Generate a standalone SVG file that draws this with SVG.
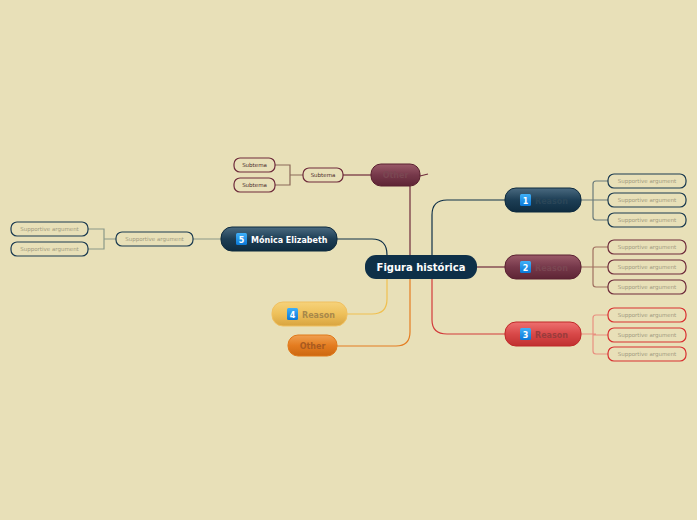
<svg xmlns="http://www.w3.org/2000/svg" width="697" height="520" viewBox="0 0 697 520">
<defs>
<linearGradient id="gNavy" x1="0" y1="0" x2="0" y2="1"><stop offset="0" stop-color="#4a6a80"/><stop offset="0.5" stop-color="#1d3e55"/><stop offset="1" stop-color="#0f2c40"/></linearGradient>
<linearGradient id="gMar" x1="0" y1="0" x2="0" y2="1"><stop offset="0" stop-color="#9a5a68"/><stop offset="0.5" stop-color="#76384a"/><stop offset="1" stop-color="#5e2535"/></linearGradient>
<linearGradient id="gRed" x1="0" y1="0" x2="0" y2="1"><stop offset="0" stop-color="#ee7070"/><stop offset="0.5" stop-color="#d84848"/><stop offset="1" stop-color="#c03030"/></linearGradient>
<linearGradient id="gYel" x1="0" y1="0" x2="0" y2="1"><stop offset="0" stop-color="#f6d27a"/><stop offset="0.5" stop-color="#eec05a"/><stop offset="1" stop-color="#d8a440"/></linearGradient>
<linearGradient id="gOr" x1="0" y1="0" x2="0" y2="1"><stop offset="0" stop-color="#f0a050"/><stop offset="0.5" stop-color="#e47c20"/><stop offset="1" stop-color="#cc6810"/></linearGradient>
<linearGradient id="gBadge" x1="0" y1="0" x2="0" y2="1"><stop offset="0" stop-color="#40b0f8"/><stop offset="1" stop-color="#0a78d8"/></linearGradient>
</defs>
<style>
.t{font-family:"DejaVu Sans","Liberation Sans",sans-serif;}
.main{font-size:10px;font-weight:bold;fill:#ffffff;}
.lbl{font-size:8px;font-weight:bold;}
.sup{font-size:5.5px;fill:#a09a80;}
.sub{font-size:5.5px;fill:#4a2a2a;}
.bn{font-size:8px;font-weight:bold;fill:#ffffff;}
.c{fill:none;stroke-width:1.2;}
.box{fill:#e8e0b8;stroke-width:1.2;}
</style>
<rect width="697" height="520" fill="#e8e0b8"/>
<g id="connectors">
<path class="c" stroke="#0f3048" stroke-width="1.5" d="M432,255 V215 Q432,200 447,200 H505"/>
<path class="c" stroke="#6e2b3b" stroke-width="1.5" d="M477,267 H505"/>
<path class="c" stroke="#d23b3b" stroke-width="1.5" d="M432,279 V320 Q432,334 447,334 H505"/>
<path class="c" stroke="#6e2b3b" stroke-width="2" d="M410,255 V186"/>
<path class="c" stroke="#0f3048" stroke-width="1.5" d="M337,239 H372 Q387,239 387,255"/>
<path class="c" stroke="#f0c050" stroke-width="1.5" d="M347,314 H372 Q387,314 387,299 V279"/>
<path class="c" stroke="#e47c20" stroke-width="1.5" d="M337,346 H396 Q410,346 410,332 V279"/>
<path class="c" stroke="#6e2b3b" d="M420,176 L428,174"/>
<path class="c" stroke="#6e2b3b" d="M343,175 H371"/>
<path class="c" stroke="#8a6858" d="M303,175 H290 M275,165 H290 V185 H275"/>
<path class="c" stroke="#6a7a7a" d="M581,200 H596 M608,181 H596 Q593,181 593,184 V217 Q593,220 596,220 H608 M593,200 H608"/>
<path class="c" stroke="#a07060" d="M581,267 H596 M608,247 H596 Q593,247 593,250 V284 Q593,287 596,287 H608 M593,267 H608"/>
<path class="c" stroke="#e89080" d="M581,334 H596 M608,315 H596 Q593,315 593,318 V351 Q593,354 596,354 H608 M593,335 H608"/>
<path class="c" stroke="#8a9888" d="M221,239 H193 M116,239 H104 M88,229 H104 V249 H88"/>
</g>
<g id="central">
<rect x="365" y="255" width="112" height="24" rx="11" fill="#0e3048"/>
<text class="t main" x="421" y="271" text-anchor="middle">Figura histórica</text>
</g>
<g id="reason1">
<rect x="505" y="188" width="76" height="24" rx="11" fill="url(#gNavy)" stroke="#0d2a3e"/>
<rect x="520" y="194" width="11" height="12" rx="1.5" fill="url(#gBadge)"/>
<text class="t bn" x="525.5" y="203.5" text-anchor="middle">1</text>
<text class="t lbl" x="535" y="203.5" fill="#2a4658">Reason</text>
</g>
<g id="reason2">
<rect x="505" y="255" width="76" height="24" rx="11" fill="url(#gMar)" stroke="#5a2030"/>
<rect x="520" y="261" width="11" height="12" rx="1.5" fill="url(#gBadge)"/>
<text class="t bn" x="525.5" y="270.5" text-anchor="middle">2</text>
<text class="t lbl" x="535" y="270.5" fill="#7a4652">Reason</text>
</g>
<g id="reason3">
<rect x="505" y="322" width="76" height="24" rx="11" fill="url(#gRed)" stroke="#c02828"/>
<rect x="520" y="328" width="11" height="12" rx="1.5" fill="url(#gBadge)"/>
<text class="t bn" x="525.5" y="337.5" text-anchor="middle">3</text>
<text class="t lbl" x="535" y="337.5" fill="#9a3c3c">Reason</text>
</g>
<g id="sup1a"><rect class="box" x="608" y="174" width="78" height="14" rx="6" stroke="#1a3a50"/><text class="t sup" x="647" y="183" text-anchor="middle">Supportive argument</text></g>
<g id="sup1b"><rect class="box" x="608" y="193" width="78" height="14" rx="6" stroke="#1a3a50"/><text class="t sup" x="647" y="202" text-anchor="middle">Supportive argument</text></g>
<g id="sup1c"><rect class="box" x="608" y="213" width="78" height="14" rx="6" stroke="#1a3a50"/><text class="t sup" x="647" y="222" text-anchor="middle">Supportive argument</text></g>
<g id="sup2a"><rect class="box" x="608" y="240" width="78" height="14" rx="6" stroke="#6e2b3b"/><text class="t sup" x="647" y="249" text-anchor="middle">Supportive argument</text></g>
<g id="sup2b"><rect class="box" x="608" y="260" width="78" height="14" rx="6" stroke="#6e2b3b"/><text class="t sup" x="647" y="269" text-anchor="middle">Supportive argument</text></g>
<g id="sup2c"><rect class="box" x="608" y="280" width="78" height="14" rx="6" stroke="#6e2b3b"/><text class="t sup" x="647" y="289" text-anchor="middle">Supportive argument</text></g>
<g id="sup3a"><rect class="box" x="608" y="308" width="78" height="14" rx="6" stroke="#d83030"/><text class="t sup" x="647" y="317" text-anchor="middle">Supportive argument</text></g>
<g id="sup3b"><rect class="box" x="608" y="328" width="78" height="14" rx="6" stroke="#d83030"/><text class="t sup" x="647" y="337" text-anchor="middle">Supportive argument</text></g>
<g id="sup3c"><rect class="box" x="608" y="347" width="78" height="14" rx="6" stroke="#d83030"/><text class="t sup" x="647" y="356" text-anchor="middle">Supportive argument</text></g>
<g id="other-top">
<rect x="371" y="164" width="49" height="22" rx="10" fill="url(#gMar)" stroke="#5a2030"/>
<text class="t lbl" x="395.5" y="178" text-anchor="middle" fill="#7a4652">Other</text>
</g>
<g id="subtema-mid"><rect class="box" x="303" y="168" width="40" height="14" rx="6" stroke="#6e2b3b"/><text class="t sub" x="323" y="177" text-anchor="middle">Subtema</text></g>
<g id="subtema1"><rect class="box" x="234" y="158" width="41" height="14" rx="6" stroke="#6e2b3b"/><text class="t sub" x="254.5" y="167" text-anchor="middle">Subtema</text></g>
<g id="subtema2"><rect class="box" x="234" y="178" width="41" height="14" rx="6" stroke="#6e2b3b"/><text class="t sub" x="254.5" y="187" text-anchor="middle">Subtema</text></g>
<g id="monica">
<rect x="221" y="227" width="116" height="24" rx="11" fill="url(#gNavy)" stroke="#0d2a3e"/>
<rect x="236" y="233" width="11" height="12" rx="1.5" fill="url(#gBadge)"/>
<text class="t bn" x="241.5" y="242.5" text-anchor="middle">5</text>
<text class="t lbl" x="251" y="242.5" fill="#ffffff">Mónica Elizabeth</text>
</g>
<g id="sup5"><rect class="box" x="116" y="232" width="77" height="14" rx="6" stroke="#1a3a50"/><text class="t sup" x="154.5" y="241" text-anchor="middle">Supportive argument</text></g>
<g id="sup5a"><rect class="box" x="11" y="222" width="77" height="14" rx="6" stroke="#1a3a50"/><text class="t sup" x="49.5" y="231" text-anchor="middle">Supportive argument</text></g>
<g id="sup5b"><rect class="box" x="11" y="242" width="77" height="14" rx="6" stroke="#1a3a50"/><text class="t sup" x="49.5" y="251" text-anchor="middle">Supportive argument</text></g>
<g id="reason4">
<rect x="272" y="302" width="75" height="24" rx="11" fill="url(#gYel)" stroke="#f0c060"/>
<rect x="287" y="308" width="11" height="12" rx="1.5" fill="url(#gBadge)"/>
<text class="t bn" x="292.5" y="317.5" text-anchor="middle">4</text>
<text class="t lbl" x="302" y="317.5" fill="#a8884a">Reason</text>
</g>
<g id="other">
<rect x="288" y="335" width="49" height="21" rx="10" fill="url(#gOr)" stroke="#e07818"/>
<text class="t lbl" x="312.5" y="349" text-anchor="middle" fill="#a85a20">Other</text>
</g>
</svg>
